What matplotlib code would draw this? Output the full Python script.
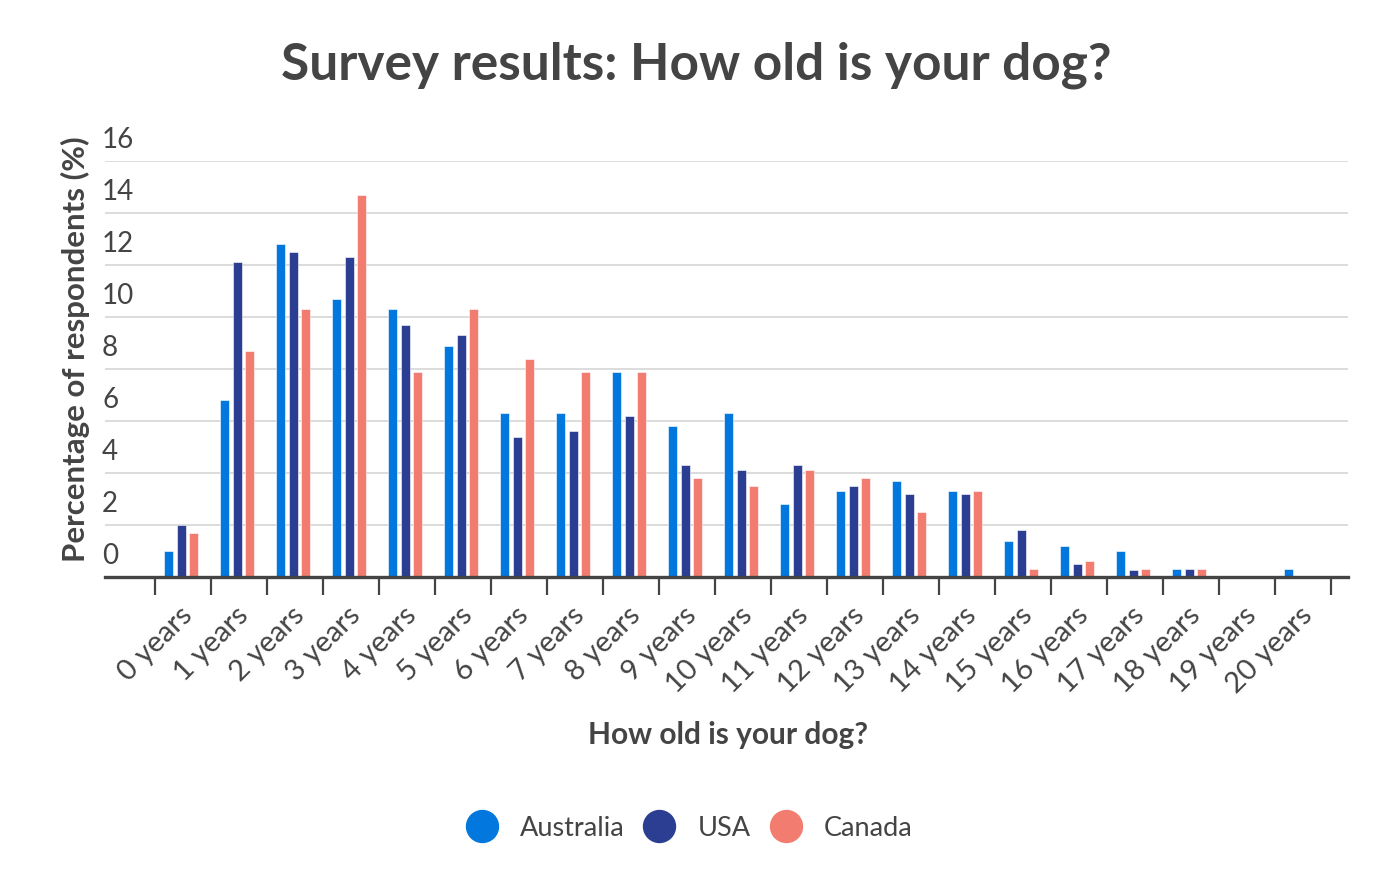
import matplotlib.pyplot as plt
import matplotlib.transforms as mtransforms
from matplotlib.lines import Line2D
import numpy as np

plt.rcParams['font.family'] = ['Lato', 'DejaVu Sans']

ages = ['0 years', '1 years', '2 years', '3 years', '4 years', '5 years', '6 years',
        '7 years', '8 years', '9 years', '10 years', '11 years', '12 years', '13 years',
        '14 years', '15 years', '16 years', '17 years', '18 years', '19 years', '20 years']
australia = [1.0, 6.8, 12.8, 10.7, 10.3, 8.9, 6.3, 6.3, 7.9, 5.8, 6.3,
             2.8, 3.3, 3.7, 3.3, 1.4, 1.2, 1.0, 0.3, 0, 0.3]
usa = [2.0, 12.1, 12.5, 12.3, 9.7, 9.3, 5.4, 5.6, 6.2, 4.3, 4.1,
       4.3, 3.5, 3.2, 3.2, 1.8, 0.5, 0.25, 0.3, 0, 0]
canada = [1.7, 8.7, 10.3, 14.7, 7.9, 10.3, 8.4, 7.9, 7.9, 3.8, 3.5,
          4.1, 3.8, 2.5, 3.3, 0.3, 0.6, 0.3, 0.3, 0, 0]
series = ['Australia', 'USA', 'Canada']
colors = ['#0277dd', '#2b3e92', '#f37c70']
yticks = [0, 2, 4, 6, 8, 10, 12, 14, 16]

dark = '#444444'
fig = plt.figure(figsize=(14, 8.9), dpi=100)
ax = fig.add_axes([0.075, 0.3517, 0.888, 0.4674])

x = np.arange(len(ages))
w = 0.155
step = 0.226
for i, (vals, c) in enumerate(zip([australia, usa, canada], colors)):
    ax.bar(x + (i - 1) * step - 0.03, vals, width=w, color=c, zorder=3,
           edgecolor='white', linewidth=0.4)

ax.set_xlim(-1.39, 20.81)
ax.set_ylim(0, 16)

# grid
for y in yticks[1:]:
    ax.axhline(y, color='#d9d9d9', lw=1.3, zorder=1)

ax.set_yticks([])
off = mtransforms.offset_copy(ax.get_yaxis_transform(), fig=fig, x=-3, y=21, units='dots')
for y in yticks:
    ax.text(0, y, str(y), transform=off, ha='left', va='center',
            fontsize=20, color=dark)

for s in ['top', 'right', 'left']:
    ax.spines[s].set_visible(False)
ax.spines['bottom'].set_color(dark)
ax.spines['bottom'].set_linewidth(2.4)
ax.spines['bottom'].set_zorder(4)

ax.set_xticks(x, ages)
ax.tick_params(axis='x', which='major', length=0, pad=18)
ax.set_xticks(np.arange(len(ages) + 1) - 0.5, minor=True)
ax.tick_params(axis='x', which='minor', length=13, width=1.6, color=dark)
shift = mtransforms.ScaledTranslation(-4 / 100, 0, fig.dpi_scale_trans)
for lab in ax.get_xticklabels():
    lab.set_rotation(45)
    lab.set_ha('right')
    lab.set_va('top')
    lab.set_rotation_mode('anchor')
    lab.set_fontsize(21)
    lab.set_color(dark)
    lab.set_transform(lab.get_transform() + shift)

fig.text(0.497, 0.927, 'Survey results: How old is your dog?', ha='center', va='center',
         fontsize=37, fontweight='bold', color=dark)
fig.text(0.52, 1 - 735 / 890, 'How old is your dog?', ha='center', va='center',
         fontsize=21.5, fontweight='bold', color=dark)
fig.text(0.054, 1 - 349 / 890, 'Percentage of respondents (%)', ha='center', va='center',
         rotation=90, fontsize=22.5, fontweight='bold', color=dark)

handles = [Line2D([], [], marker='o', ls='', markersize=23, color=c) for c in colors]
fig.legend(handles, series, loc='center', bbox_to_anchor=(0.492, 1 - 828 / 890), ncol=3,
           frameon=False, fontsize=19.5, handlelength=1.2, handletextpad=0.8,
           columnspacing=0.7, labelcolor=dark)

fig.savefig('out.png', dpi=100)
